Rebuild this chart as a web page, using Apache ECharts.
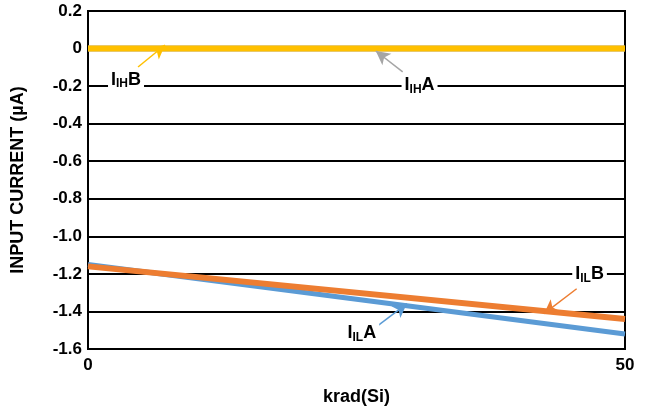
<!DOCTYPE html>
<html>
<head>
<meta charset="utf-8">
<script src="https://cdn.jsdelivr.net/npm/echarts@6/dist/echarts.min.js"></script>
<style>
  html, body { margin: 0; padding: 0; background: #fff; }
  #chart { width: 647px; height: 411px; }
</style>
</head>
<body>
<div id="chart"></div>
<script>
// data
var xVals = [0, 50];
var ihA = [0, 0];
var ihB = [0, 0];
var ilA = [-1.15, -1.52];
var ilB = [-1.16, -1.44];
var yTicks = { min: -1.6, max: 0.2, step: 0.2 };

var FONT = "Liberation Sans, Arial, sans-serif";

function pairs(ys) {
  return xVals.map(function (x, i) { return [x, ys[i]]; });
}

// rich label "I<sub>xx</sub>Y"
var rich = {
  a: { fontFamily: FONT, fontWeight: "bold", fontSize: 18, color: "#000", lineHeight: 20 },
  s: { fontFamily: FONT, fontWeight: "bold", fontSize: 12, color: "#000", lineHeight: 20, padding: [9, 0, 0, 0] }
};
function tag(sub, letter, at) {
  return {
    coord: at,
    symbol: "circle",
    symbolSize: 0,
    label: {
      show: true,
      position: "inside",
      formatter: "{a|I}{s|" + sub + "}{a|" + letter + "}",
      rich: rich,
      backgroundColor: "#fff",
      padding: [0, 3]
    }
  };
}
function arrow(from, to, color) {
  return {
    silent: true,
    symbol: ["none", "arrow"],
    symbolSize: [11, 14],
    label: { show: false },
    lineStyle: { color: color, width: 1.5, type: "solid" },
    emphasis: { disabled: true },
    data: [[{ coord: from }, { coord: to }]]
  };
}

var chart = echarts.init(document.getElementById("chart"));
chart.setOption({
  animation: false,
  grid: { left: 88, right: 22, top: 11, bottom: 62, show: true, borderColor: "#000", borderWidth: 2 },
  xAxis: {
    type: "value",
    min: 0,
    max: 50,
    interval: 50,
    name: "krad(Si)",
    nameLocation: "middle",
    nameGap: 39,
    nameTextStyle: { fontFamily: FONT, fontWeight: "bold", fontSize: 18, color: "#000" },
    axisLine: { lineStyle: { color: "#000", width: 2 } },
    axisTick: { show: false },
    splitLine: { show: false },
    axisLabel: { fontFamily: FONT, fontWeight: "bold", fontSize: 17, color: "#000", margin: 8 }
  },
  yAxis: {
    type: "value",
    min: yTicks.min,
    max: yTicks.max,
    interval: yTicks.step,
    name: "INPUT CURRENT (µA)",
    nameLocation: "middle",
    nameGap: 61,
    nameTextStyle: { fontFamily: FONT, fontWeight: "bold", fontSize: 18, color: "#000" },
    axisLine: { show: true, lineStyle: { color: "#000", width: 2 } },
    axisTick: { show: false },
    splitLine: { show: true, lineStyle: { color: "#000", width: 2 } },
    axisLabel: {
      fontFamily: FONT, fontWeight: "bold", fontSize: 17, color: "#000", margin: 6,
      formatter: function (v) { return Math.abs(v) < 1e-9 ? "0" : v.toFixed(1); }
    }
  },
  series: [
    {
      name: "IIL A", type: "line", data: pairs(ilA), symbol: "none", z: 3,
      lineStyle: { color: "#5B9BD5", width: 5 },
      markPoint: { data: [tag("IL", "A", [25.5, -1.515])] },
      markLine: arrow([26.9, -1.48], [29.7, -1.358], "#5B9BD5")
    },
    {
      name: "IIL B", type: "line", data: pairs(ilB), symbol: "none", z: 4,
      lineStyle: { color: "#ED7D31", width: 6 },
      markPoint: { data: [tag("IL", "B", [46.7, -1.20])] },
      markLine: arrow([45.5, -1.279], [42.46, -1.412], "#ED7D31")
    },
    {
      name: "IIH A", type: "line", data: pairs(ihA), symbol: "none", z: 3,
      lineStyle: { color: "#A5A5A5", width: 6 },
      markPoint: { data: [tag("IH", "A", [30.87, -0.195])] },
      markLine: arrow([29.3, -0.124], [26.8, -0.013], "#A5A5A5")
    },
    {
      name: "IIH B", type: "line", data: pairs(ihB), symbol: "none", z: 4,
      lineStyle: { color: "#FFC000", width: 6 },
      markPoint: { data: [tag("IH", "B", [3.54, -0.165])] },
      markLine: arrow([4.66, -0.098], [7.17, 0.019], "#FFC000")
    }
  ]
});
</script>
</body>
</html>
